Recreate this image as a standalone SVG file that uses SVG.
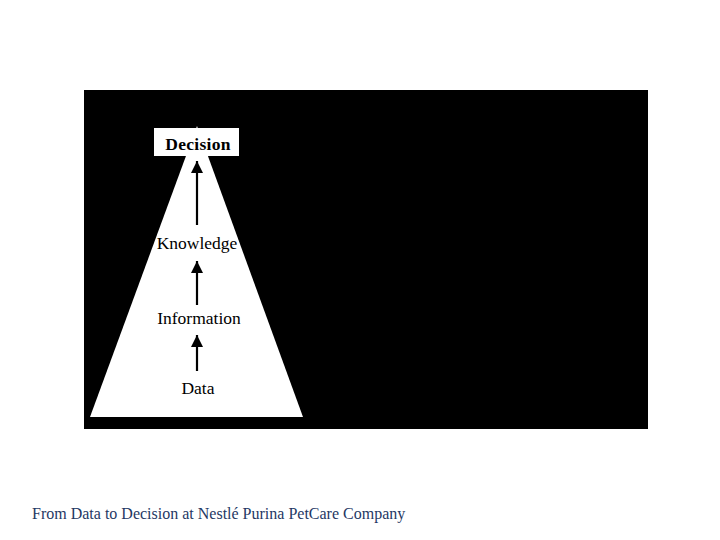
<svg xmlns="http://www.w3.org/2000/svg" width="720" height="540" viewBox="0 0 720 540">
<defs>
<style>
.lbl{font-family:"Liberation Serif","Times New Roman",serif;font-size:17.5px;fill:#000;text-anchor:middle}
.cap{font-family:"Liberation Serif","Times New Roman",serif;font-size:16px;fill:#1f3864}
.edge{stroke:#000;stroke-width:2.2;fill:none}
</style>
<marker id="ah" viewBox="0 0 10 10" refX="10" refY="5" markerWidth="5.5" markerHeight="5.5" orient="auto" markerUnits="strokeWidth">
<path d="M0,0 L10,5 L0,10 z" fill="#000"/>
</marker>
</defs>
<rect x="0" y="0" width="720" height="540" fill="#fff"/>
<rect id="panel" x="84" y="90" width="564" height="339" fill="#000"/>
<polygon id="pyramid" points="197,126 303,417 90,417" fill="#fff"/>
<g id="decision">
<rect x="154" y="128" width="85" height="28" fill="#fff"/>
<text class="lbl" x="198" y="150" font-weight="bold" font-size="17px" letter-spacing="0.3">Decision</text>
</g>
<g id="knowledge"><text class="lbl" x="197" y="249">Knowledge</text></g>
<g id="information"><text class="lbl" x="199" y="324">Information</text></g>
<g id="data"><text class="lbl" x="198" y="394">Data</text></g>
<g id="connectors">
<line class="edge" x1="197" y1="225" x2="197" y2="161" marker-end="url(#ah)"/>
<line class="edge" x1="197" y1="305" x2="197" y2="261" marker-end="url(#ah)"/>
<line class="edge" x1="197" y1="371" x2="197" y2="335" marker-end="url(#ah)"/>
</g>
<text class="cap" x="32" y="519">From Data to Decision at Nestlé Purina PetCare Company</text>
</svg>
